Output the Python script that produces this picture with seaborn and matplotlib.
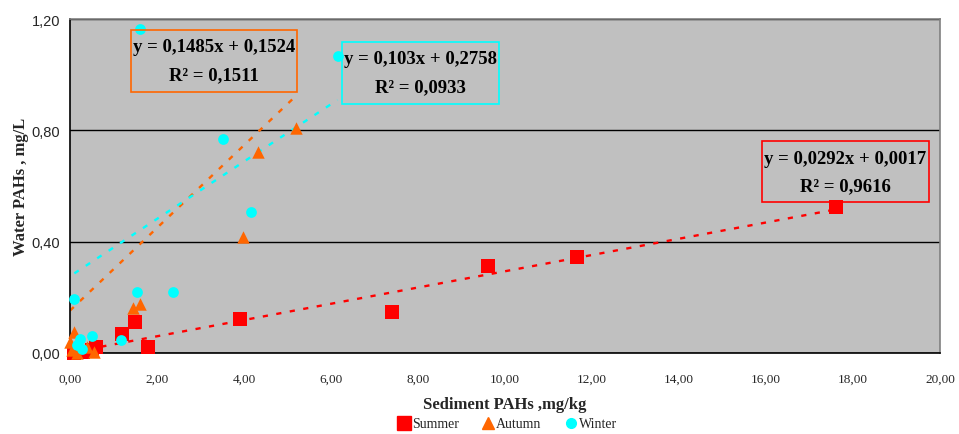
import numpy as np
import pandas as pd
import matplotlib
matplotlib.use("Agg")
import matplotlib.pyplot as plt
import seaborn as sns
from matplotlib.lines import Line2D

# Sediment vs water PAH concentrations per season
summer_x = [17.6, 11.66, 9.6, 7.4, 3.9, 1.5, 1.2, 1.8, 0.6, 0.5, 0.1, 0.3]
summer_y = [0.525, 0.345, 0.313, 0.147, 0.122, 0.11, 0.068, 0.02, 0.02, 0.01, 0.0, 0.005]
autumn_x = [5.2, 4.33, 3.97, 1.6, 1.45, 0.1, 0.0, 0.05, 0.4, 0.15, 0.55]
autumn_y = [0.81, 0.723, 0.417, 0.175, 0.16, 0.075, 0.04, 0.01, 0.02, 0.0, 0.005]
winter_x = [1.6, 6.15, 3.52, 4.16, 2.37, 1.55, 0.1, 1.17, 0.5, 0.23, 0.15, 0.27]
winter_y = [1.165, 1.068, 0.77, 0.507, 0.219, 0.219, 0.194, 0.047, 0.06, 0.05, 0.03, 0.015]

seasons = ["Summer", "Autumn", "Winter"]
slopes = [0.0292, 0.1485, 0.103]
intercepts = [0.0017, 0.1524, 0.2758]
r_squared = [0.9616, 0.1511, 0.0933]

x_ticks = [0, 2, 4, 6, 8, 10, 12, 14, 16, 18, 20]
y_ticks = [0.0, 0.4, 0.8, 1.2]

colors = {"Summer": "#FF0000", "Autumn": "#FF6600", "Winter": "#00FFFF"}
markers = {"Summer": "s", "Autumn": "^", "Winter": "o"}
sizes = {"Summer": 100, "Autumn": 80, "Winter": 60}

df = pd.concat([
    pd.DataFrame({"sed": summer_x, "water": summer_y, "season": "Summer"}),
    pd.DataFrame({"sed": autumn_x, "water": autumn_y, "season": "Autumn"}),
    pd.DataFrame({"sed": winter_x, "water": winter_y, "season": "Winter"}),
], ignore_index=True)

sns.set_theme(style="white")
plt.rcParams["font.family"] = ["Liberation Serif", "DejaVu Serif"]

fig = plt.figure(figsize=(9.59, 4.35), dpi=100)
ax = fig.add_axes([70 / 959, 1 - 354 / 435, 870 / 959, 334 / 435])
ax.set_facecolor("#C0C0C0")

# Linear trendlines over each season's sediment range
for s, k, b in zip(seasons, slopes, intercepts):
    sub = df[df["season"] == s]
    xs = np.array([sub["sed"].min(), sub["sed"].max()])
    ax.plot(xs, k * xs + b, color=colors[s], lw=1.7,
            linestyle=(0, (2.2, 3.6)), zorder=2)

for s in seasons:
    sub = df[df["season"] == s]
    sns.scatterplot(data=sub, x="sed", y="water", color=colors[s],
                    marker=markers[s], s=sizes[s], linewidth=0,
                    ax=ax, zorder=3, legend=False, clip_on=False)

ax.set_xlim(0, 20)
ax.set_ylim(0, 1.2)
ax.set_xticks(x_ticks)
ax.set_xticklabels([f"{v:.2f}".replace(".", ",") for v in x_ticks],
                   fontsize=9.5, family=["Liberation Serif"])
ax.set_yticks(y_ticks)
ax.set_yticklabels([f"{v:.2f}".replace(".", ",") for v in y_ticks],
                   fontsize=10.5, family=["Liberation Sans"])
ax.tick_params(axis="both", direction="out", length=4, width=1,
               color="black", pad=3)
ax.tick_params(axis="x", pad=10)
ax.yaxis.grid(True, color="black", lw=1)
ax.xaxis.grid(False)
ax.set_axisbelow(True)
for side in ["left", "bottom"]:
    ax.spines[side].set_color("black")
    ax.spines[side].set_linewidth(1.2)
for side in ["top", "right"]:
    ax.spines[side].set_color("#808080")
    ax.spines[side].set_linewidth(1.2)

ax.set_xlabel("Sediment PAHs ,mg/kg", fontsize=12, fontweight="bold", labelpad=8)
ax.set_ylabel("Water PAHs , mg/L", fontsize=12, fontweight="bold", labelpad=2)

# Trendline equation boxes
boxes = {"Autumn": (131, 31, 297, 93), "Winter": (342, 43, 499, 105),
         "Summer": (762, 142, 929, 203)}
for s, k, b, r2 in zip(seasons, slopes, intercepts, r_squared):
    x0, y0, x1, y1 = boxes[s]
    fig.patches.append(plt.Rectangle((x0 / 959, 1 - y1 / 435), (x1 - x0) / 959,
                                     (y1 - y0) / 435, transform=fig.transFigure,
                                     fill=False, edgecolor=colors[s], lw=1.2))
    cx = (x0 + x1) / 2 / 959
    eq = f"y = {k:.4f}".rstrip("0").replace(".", ",") + "x + " + f"{b:.4f}".replace(".", ",")
    fig.text(cx, 1 - (y0 + 17) / 435, eq, ha="center", va="center",
             fontsize=13.5, fontweight="bold", color="black")
    fig.text(cx, 1 - (y0 + 45) / 435, "R² = " + f"{r2:.4f}".replace(".", ","),
             ha="center", va="center", fontsize=13.5, fontweight="bold", color="black")

handles = [Line2D([], [], linestyle="", marker=markers[s], color=colors[s],
                  markersize={"Summer": 10, "Autumn": 9, "Winter": 7}[s]) for s in seasons]
fig.legend(handles, seasons, loc="center", bbox_to_anchor=(507 / 959, 1 - 425 / 435),
           ncol=3, frameon=False, fontsize=10, handletextpad=0.1, columnspacing=1.6,
           handlelength=1.0)

fig.savefig("out.png", dpi=100)
